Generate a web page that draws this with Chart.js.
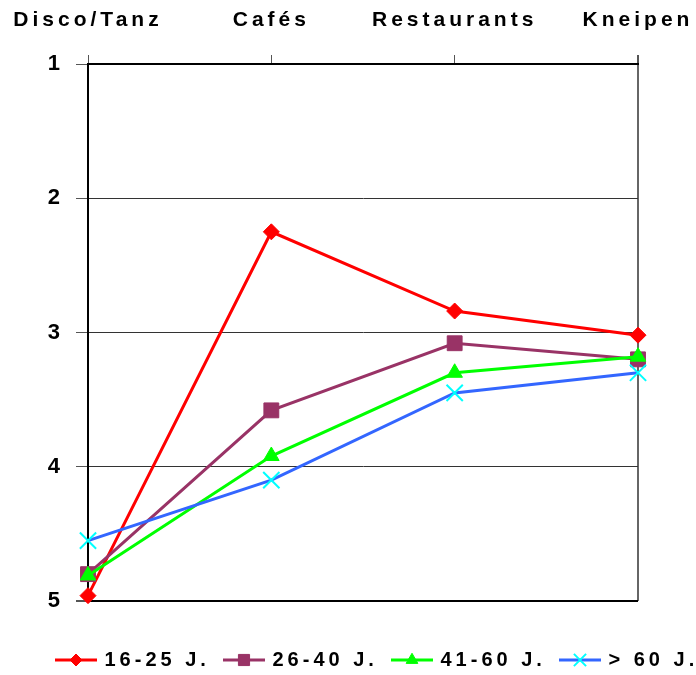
<!DOCTYPE html>
<html>
<head>
<meta charset="utf-8">
<script src="https://cdn.jsdelivr.net/npm/chart.js@4/dist/chart.umd.min.js"></script>
<style>html,body{margin:0;padding:0;background:#fff;}canvas{display:block;}</style>
</head>
<body>
<canvas id="c" width="696" height="675"></canvas>
<script>
// ---- data ----
const categories = ['Disco/Tanz', 'Cafés', 'Restaurants', 'Kneipen'];
const seriesNames = ['16-25 J.', '26-40 J.', '41-60 J.', '> 60 J.'];
const age16to25 = [4.96, 2.25, 2.84, 3.02];
const age26to40 = [4.80, 3.58, 3.08, 3.20];
const age41to60 = [4.81, 3.92, 3.30, 3.18];
const age60plus = [4.55, 4.10, 3.45, 3.30];
const yTickValues = [1, 2, 3, 4, 5];

// ---- styles ----
const seriesValues = [age16to25, age26to40, age41to60, age60plus];
const styles = [
  { line: '#FF0000', fill: '#FF0000', stroke: '#FF0000', point: 'rectRot', r: 8, bw: 1 },
  { line: '#993366', fill: '#993366', stroke: '#993366', point: 'rect', r: 10.5, bw: 1 },
  { line: '#00FF00', fill: '#00FF00', stroke: '#00FF00', point: 'triangle', r: 9, bw: 1 },
  { line: '#3366FF', fill: '#00FFFF', stroke: '#00FFFF', point: 'crossRot', r: 11.5, bw: 2 }
];
const FONT = '"Liberation Sans", Arial, sans-serif';

function legendIcon(s) {
  const c = document.createElement('canvas');
  c.width = 42; c.height = 20;
  const g = c.getContext('2d');
  g.strokeStyle = s.line; g.lineWidth = 3;
  g.beginPath(); g.moveTo(0, 10); g.lineTo(42, 10); g.stroke();
  g.fillStyle = s.fill; g.strokeStyle = s.stroke; g.lineWidth = s.bw;
  Chart.helpers.drawPoint(g, { pointStyle: s.point, radius: s.r * 0.75, rotation: 0, borderWidth: s.bw }, 21, 10);
  return c;
}
const icons = styles.map(legendIcon);

const LS = '4px';
const LEGEND_HEIGHT = 74;
const spacingPlugin = {
  id: 'spacing',
  beforeUpdate(chart) {
    chart.ctx.letterSpacing = LS;
    const lg = chart.legend;
    if (lg && !lg._fixedFit) {
      const orig = lg.fit.bind(lg);
      lg.fit = function () { orig(); this.height = LEGEND_HEIGHT; };
      lg._fixedFit = true;
    }
  },
  beforeLayout(chart) { chart.ctx.letterSpacing = LS; },
  afterLayout(chart) {
    const lg = chart.legend;
    const p = chart.options.plugins.legend.labels.padding;
    lg.left = 57.5 - p;
    lg.right = 900;
    lg.top = 660 - 10 - p;
    lg.bottom = lg.top + LEGEND_HEIGHT;
  },
  beforeDraw(chart) { chart.ctx.letterSpacing = LS; }
};

new Chart(document.getElementById('c'), {
  type: 'line',
  data: {
    labels: categories,
    datasets: seriesNames.map((name, i) => ({
      label: name,
      data: seriesValues[i],
      borderColor: styles[i].line,
      backgroundColor: styles[i].fill,
      borderWidth: 3,
      tension: 0,
      pointStyle: styles[i].point,
      pointRadius: styles[i].r,
      pointBackgroundColor: styles[i].fill,
      pointBorderColor: styles[i].stroke,
      pointBorderWidth: styles[i].bw,
      clip: false,
      order: seriesNames.length - i
    }))
  },
  options: {
    responsive: false,
    animation: false,
    events: [],
    layout: { autoPadding: false, padding: { top: 0, right: 58, bottom: 0, left: 0 } },
    scales: {
      x: {
        type: 'category',
        position: 'top',
        offset: false,
        afterFit: s => { s.height = 64; s.paddingLeft = 0; s.paddingRight = 0; },
        border: { display: true, color: '#000', width: 2 },
        grid: {
          drawOnChartArea: true,
          color: c => c.index === categories.length - 1 ? '#666' : 'rgba(0,0,0,0)',
          lineWidth: c => c.index === categories.length - 1 ? 2 : 1,
          tickColor: '#555',
          tickLength: 9
        },
        ticks: {
          color: '#000',
          padding: 22,
          maxRotation: 0,
          autoSkip: false,
          font: { family: FONT, size: 21, weight: 'bold' }
        }
      },
      y: {
        type: 'linear',
        position: 'left',
        reverse: true,
        min: yTickValues[0],
        max: yTickValues[yTickValues.length - 1],
        afterFit: s => { s.width = 88; s.paddingTop = 0; s.paddingBottom = 0; },
        afterBuildTicks: s => { s.ticks = yTickValues.map(v => ({ value: v })); },
        border: { display: true, color: '#000', width: 2 },
        grid: {
          color: c => (c.tick && (c.tick.value === 5 || c.tick.value === 1)) ? '#000' : '#333',
          lineWidth: c => (c.tick && c.tick.value === 5) ? 2 : 1,
          tickColor: '#555',
          tickLength: 12
        },
        ticks: {
          color: '#000',
          padding: 12,
          stepSize: 1,
          font: { family: FONT, size: 22, weight: 'bold' }
        }
      }
    },
    plugins: {
      tooltip: { enabled: false },
      title: { display: false },
      legend: {
        display: true,
        position: 'bottom',
        align: 'start',
        labels: {
          usePointStyle: true,
          pointStyleWidth: 37,
          boxHeight: 20,
          padding: 15.6,
          color: '#000',
          font: { family: FONT, size: 20, weight: 'bold' },
          generateLabels: chart => chart.data.datasets.map((d, i) => ({
            text: d.label,
            pointStyle: icons[i],
            datasetIndex: i,
            hidden: false,
            fillStyle: 'rgba(0,0,0,0)',
            strokeStyle: 'rgba(0,0,0,0)',
            lineWidth: 0,
            fontColor: '#000'
          }))
        }
      }
    }
  },
  plugins: [spacingPlugin]
});
</script>
</body>
</html>
